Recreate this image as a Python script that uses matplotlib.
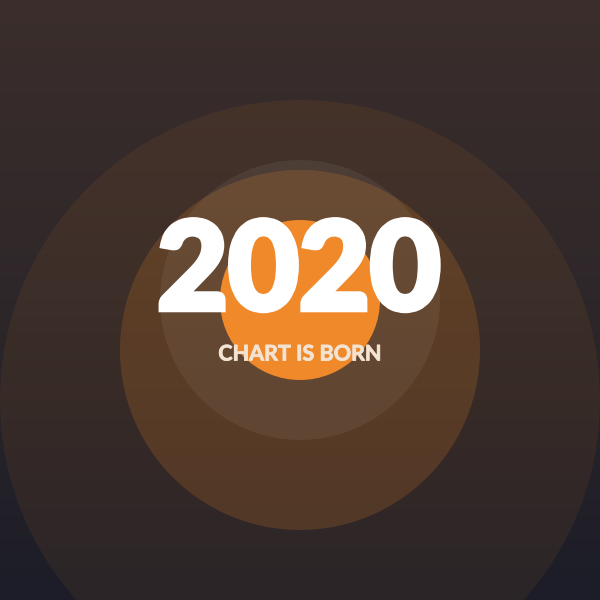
import numpy as np
import matplotlib
matplotlib.use('Agg')
import matplotlib.pyplot as plt
import matplotlib.patheffects as pe
from matplotlib.patches import Circle
from matplotlib.colors import LinearSegmentedColormap

# circles, back to front (pixel coords on a 600x600 canvas)
circle_x = [300, 300, 300, 300]
circle_y = [400, 350, 300, 300]
circle_r = [300, 180, 140, 80]
circle_colors = ['#f28a24', '#f28a24', '#ffffff', '#f0892a']
circle_alpha = [0.075, 0.18, 0.06, 1.0]

year_label = '2020'
caption = 'CHART IS BORN'

fig = plt.figure(figsize=(6, 6), dpi=100)
ax = fig.add_axes([0, 0, 1, 1])
ax.set_xlim(0, 600)
ax.set_ylim(600, 0)
ax.axis('off')

# background gradient, warm brown at top to dark navy at bottom
bg = LinearSegmentedColormap.from_list('bg', ['#3b2e2c', '#2e2729', '#1c1d28'])
grad = np.linspace(0, 1, 256).reshape(-1, 1)
ax.imshow(grad, cmap=bg, extent=[0, 600, 600, 0], aspect='auto', zorder=0)

for x, y, r, c, a in zip(circle_x, circle_y, circle_r, circle_colors, circle_alpha):
    ax.add_patch(Circle((x, y), r, facecolor=c, alpha=a, edgecolor='none', zorder=1))

# thicken the year a little, the original uses a heavier face
ax.text(299, 274, year_label, ha='center', va='center', color='white',
        fontsize=88, fontweight='black', family=['Lato', 'DejaVu Sans'], zorder=3,
        path_effects=[pe.withStroke(linewidth=4, foreground='white', joinstyle='miter')])
ax.text(300, 354, caption, ha='center', va='center', color='#f3e3d3',
        fontsize=15.5, fontweight='bold', family=['Lato', 'DejaVu Sans'], zorder=3,
        path_effects=[pe.withStroke(linewidth=0.6, foreground='#f3e3d3')])

fig.savefig('out.png', dpi=100)
